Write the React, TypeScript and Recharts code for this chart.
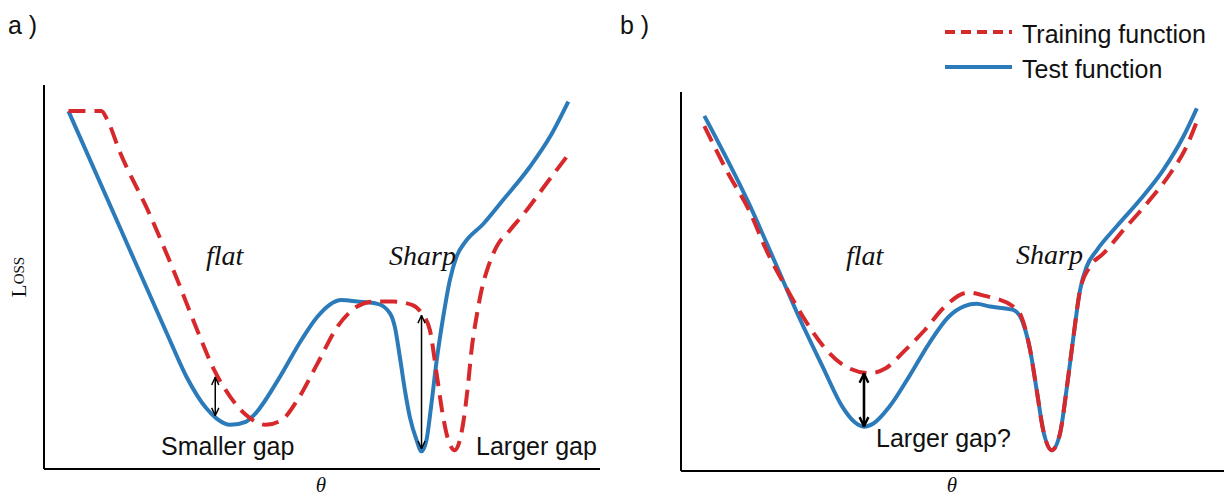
import { LineChart, Line, XAxis, YAxis, ReferenceLine } from 'recharts';

const BLUE = '#2b7bba';
const RED = '#d7282b';
const SANS = '"Liberation Sans", Arial, Helvetica, sans-serif';
const SERIF = '"Liberation Serif", "Times New Roman", serif';

// (a) test function: two minima, the right one sharp
const thetaTestA = [4.4, 13.5, 22.1, 25.6, 29.2, 31.0, 33.5, 36.3, 37.8, 42.1, 46.3, 49.2, 51.3, 53.5, 56.3, 60.0, 62.2, 63.1, 64.0, 64.9, 65.8, 67.0, 67.9, 68.8, 69.6, 70.6, 71.8, 73.0, 74.2, 75.8, 79.0, 82.6, 87.4, 91.0, 94.3];
const lossTestA = [93.2, 63.4, 35.3, 24.1, 15.8, 13.2, 11.5, 12.3, 14.1, 23.2, 33.6, 39.7, 42.7, 44.0, 43.6, 43.0, 40.6, 37.0, 29.2, 20.6, 13.5, 7.6, 4.6, 7.6, 16.0, 28.0, 39.6, 49.2, 55.3, 59.2, 63.8, 70.1, 78.7, 86.5, 95.7];

// (a) training function: same landscape, shifted along theta
const thetaTrainA = [4.4, 10.3, 11.4, 13.5, 19.2, 23.5, 27.8, 30.6, 33.5, 36.3, 39.9, 42.8, 45.6, 49.2, 52.8, 56.3, 59.2, 62.8, 66.3, 67.9, 69.4, 70.6, 71.8, 72.7, 73.9, 75.4, 76.3, 76.9, 77.8, 78.7, 79.9, 81.4, 83.8, 86.8, 90.4, 94.0];
const lossTrainA = [93.2, 93.2, 90.9, 83.1, 65.7, 51.0, 35.3, 25.8, 18.8, 14.1, 11.5, 12.8, 18.0, 27.5, 37.1, 42.3, 43.6, 43.6, 42.7, 40.6, 36.2, 25.0, 13.5, 7.6, 4.9, 12.0, 22.4, 31.0, 39.7, 46.6, 52.7, 57.9, 62.2, 67.4, 74.4, 81.3];

// (b) test function
const thetaTestB = [4.3, 12.5, 17.4, 21.7, 26.1, 29.7, 31.9, 33.7, 35.5, 38.4, 42.0, 45.7, 49.3, 52.2, 54.4, 56.9, 61.2, 63.0, 64.3, 65.5, 66.7, 68.3, 69.8, 71.0, 72.2, 73.5, 74.7, 76.6, 80.2, 84.5, 88.8, 92.5, 95.0];
const lossTestB = [93.7, 70.6, 54.8, 40.7, 27.5, 17.0, 13.0, 11.7, 12.6, 17.0, 24.9, 33.7, 40.7, 43.5, 44.1, 43.4, 42.5, 39.0, 31.9, 21.4, 10.8, 5.5, 9.9, 21.4, 34.6, 47.8, 53.9, 58.3, 64.5, 71.5, 79.4, 88.2, 95.7];

// (b) training function: higher flat minimum, same sharp minimum
const thetaTrainB = [4.3, 8.7, 12.5, 16.0, 19.6, 23.2, 26.8, 30.4, 34.8, 37.7, 41.3, 44.9, 48.6, 52.9, 56.0, 61.2, 62.4, 64.3, 65.5, 66.7, 68.3, 69.8, 71.0, 72.2, 73.5, 75.3, 77.8, 81.5, 85.8, 90.1, 93.1, 95.0];
const lossTrainB = [91.0, 78.5, 68.9, 57.4, 47.8, 39.0, 31.9, 27.5, 25.8, 27.1, 31.9, 37.2, 43.4, 47.1, 46.2, 43.4, 41.6, 31.9, 21.4, 10.8, 5.5, 9.9, 21.4, 34.6, 47.8, 53.9, 57.4, 63.6, 70.6, 78.5, 85.6, 92.2];

// generalization gaps marked with double arrows
const gapThetaA = [30.8, 67.9];
const gapLowA = [13.8, 5.2];
const gapHighA = [24.0, 40.1];
const gapThetaB = [33.7];
const gapLowB = [11.6];
const gapHighB = [25.9];

const toPoints = (theta: number[], loss: number[]) =>
  theta.map((t, i) => ({ theta: t, loss: loss[i] }));

type PanelProps = {
  left: number;
  width: number;
  margin: { top: number; right: number; bottom: number; left: number };
  train: { theta: number; loss: number }[];
  test: { theta: number; loss: number }[];
  gapTheta: number[];
  gapLow: number[];
  gapHigh: number[];
  arrowWidth: number;
  marker: string;
};

const Panel = ({ left, width, margin, train, test, gapTheta, gapLow, gapHigh, arrowWidth, marker }: PanelProps) => (
  <div style={{ position: 'absolute', left, top: 0 }}>
    <LineChart width={width} height={498} margin={margin}>
      <XAxis
        type="number"
        dataKey="theta"
        domain={[0, 100]}
        allowDataOverflow
        height={1}
        tick={false}
        tickLine={false}
        axisLine={{ stroke: '#000', strokeWidth: 2 }}
      />
      <YAxis
        type="number"
        domain={[0, 100]}
        allowDataOverflow
        width={1}
        tick={false}
        tickLine={false}
        axisLine={{ stroke: '#000', strokeWidth: 2 }}
      />
      <Line
        data={test}
        dataKey="loss"
        type="monotone"
        stroke={BLUE}
        strokeWidth={4}
        dot={false}
        activeDot={false}
        isAnimationActive={false}
      />
      <Line
        data={train}
        dataKey="loss"
        type="monotone"
        stroke={RED}
        strokeWidth={4}
        strokeDasharray="17 9"
        dot={false}
        activeDot={false}
        isAnimationActive={false}
      />
      {gapTheta.map((t, i) => (
        <ReferenceLine
          key={i}
          segment={[{ x: t, y: gapLow[i] }, { x: t, y: gapHigh[i] }]}
          stroke="#000"
          strokeWidth={arrowWidth}
          ifOverflow="visible"
          markerStart={`url(#${marker})`}
          markerEnd={`url(#${marker})`}
        />
      ))}
    </LineChart>
  </div>
);

const App = () => {
  const text = { fontFamily: SANS, fontSize: 25, fill: '#111' };
  const script = { fontFamily: SERIF, fontStyle: 'italic', fontSize: 28, fill: '#111' };
  const theta = { fontFamily: SERIF, fontStyle: 'italic', fontSize: 21, fill: '#111' };
  return (
    <div style={{ position: 'absolute', left: 0, top: 0, width: 1225, height: 498, background: '#fff' }}>
      <svg width={0} height={0} style={{ position: 'absolute' }}>
        <defs>
          <marker id="arrowThin" viewBox="0 0 10 10" refX={10} refY={5} markerWidth={9} markerHeight={10}
            markerUnits="userSpaceOnUse" orient="auto-start-reverse">
            <path d="M1,1 L9.5,5 L1,9" fill="none" stroke="#000" strokeWidth={1.6} />
          </marker>
          <marker id="arrowThick" viewBox="0 0 10 10" refX={10} refY={5} markerWidth={11} markerHeight={13}
            markerUnits="userSpaceOnUse" orient="auto-start-reverse">
            <path d="M1,1 L9.3,5 L1,9" fill="none" stroke="#000" strokeWidth={2.2} />
          </marker>
        </defs>
      </svg>

      <Panel
        left={0}
        width={612}
        margin={{ top: 85, right: 12, bottom: 28, left: 43 }}
        train={toPoints(thetaTrainA, lossTrainA)}
        test={toPoints(thetaTestA, lossTestA)}
        gapTheta={gapThetaA}
        gapLow={gapLowA}
        gapHigh={gapHighA}
        arrowWidth={1.5}
        marker="arrowThin"
      />
      <Panel
        left={612}
        width={613}
        margin={{ top: 92, right: 1, bottom: 26, left: 68 }}
        train={toPoints(thetaTrainB, lossTrainB)}
        test={toPoints(thetaTestB, lossTestB)}
        gapTheta={gapThetaB}
        gapLow={gapLowB}
        gapHigh={gapHighB}
        arrowWidth={2.6}
        marker="arrowThick"
      />

      <svg width={1225} height={498} style={{ position: 'absolute', left: 0, top: 0, pointerEvents: 'none' }}>
        <text x={8} y={34} style={text}>a )</text>
        <text x={620} y={34} style={text}>b )</text>

        <text x={19} y={277} transform="rotate(-90 19 277)" textAnchor="middle" dominantBaseline="central"
          style={{ fontFamily: SERIF, fill: '#111' }}>
          <tspan fontSize={21}>L</tspan>
          <tspan fontSize={15}>OSS</tspan>
        </text>
        <text x={321} y={492} textAnchor="middle" style={theta}>θ</text>
        <text x={952} y={492} textAnchor="middle" style={theta}>θ</text>

        <text x={206} y={265} style={script}>flat</text>
        <text x={389} y={265} style={script}>Sharp</text>
        <text x={846} y={265} style={script}>flat</text>
        <text x={1016} y={264} style={script}>Sharp</text>

        <text x={161} y={455} style={text}>Smaller gap</text>
        <text x={476} y={455} style={text}>Larger gap</text>
        <text x={876} y={447} style={text}>Larger gap?</text>

        <line x1={945} y1={32} x2={1012} y2={32} stroke={RED} strokeWidth={4} strokeDasharray="10 6" />
        <text x={1022} y={43} style={text}>Training function</text>
        <line x1={945} y1={67} x2={1012} y2={67} stroke={BLUE} strokeWidth={4} />
        <text x={1022} y={78} style={text}>Test function</text>
      </svg>
    </div>
  );
};

export default App;
